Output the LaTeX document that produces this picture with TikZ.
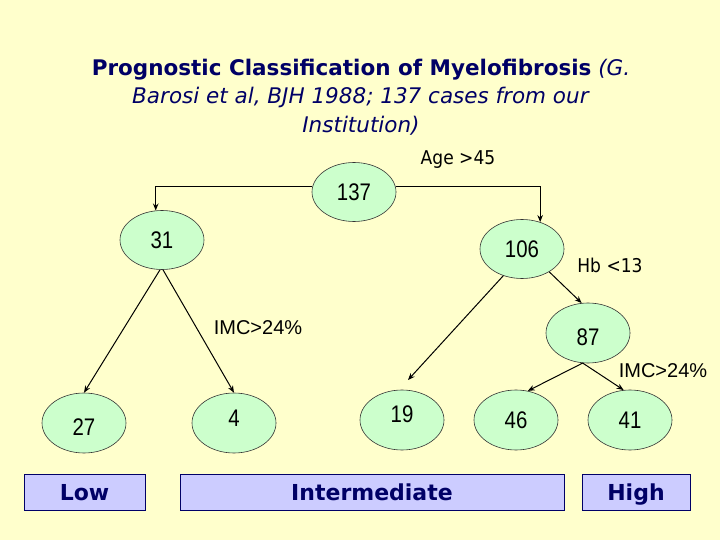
\documentclass[tikz,border=0pt]{standalone}
\usepackage{fontspec}
\setmainfont{DejaVu Sans}[FakeStretch=0.9]
\newfontfamily\titlefont{DejaVu Sans}
\newfontfamily\numfont{Liberation Sans}[FakeStretch=0.85]
\newfontfamily\imcfont{Liberation Sans}
\usetikzlibrary{shapes.geometric,arrows.meta}
\definecolor{bgcol}{HTML}{FFFFCC}
\definecolor{nodefill}{HTML}{CCFFCC}
\definecolor{boxfill}{HTML}{CCCCFF}
\definecolor{navy}{HTML}{000066}
\begin{document}
\begin{tikzpicture}[x=1pt,y=-1pt,
  ell/.style={ellipse,draw=black!80,line width=0.6pt,fill=nodefill,minimum width=84pt,minimum height=59pt,inner sep=0pt},
  num/.style={font=\numfont\fontsize{24}{24}\selectfont,text=black,inner sep=0pt},
  lab/.style={font=\fontsize{19}{19}\selectfont,text=black,inner sep=0pt},
  imc/.style={font=\imcfont\fontsize{20}{20}\selectfont,text=black,inner sep=0pt},
  cls/.style={draw=navy,line width=0.8pt,fill=boxfill,minimum height=36pt,inner sep=0pt,text height=18pt,text depth=2pt,font=\titlefont\bfseries\fontsize{22}{22}\selectfont,text=navy},
  arr/.style={draw=black,line width=1pt,-{Stealth[length=7pt,width=5.5pt]}}]
\fill[bgcol] (0,0) rectangle (720,540);
\useasboundingbox (0,0) rectangle (720,540);

% title
\node[text=navy,align=center,font=\titlefont\fontsize{21.5}{28.5}\selectfont] (title) at (361,97)
 {\textbf{Prognostic Classification of Myelofibrosis} \textit{(G.}\\
  \textit{Barosi et al, BJH 1988; 137 cases from our}\\
  \textit{Institution)}};

% tree nodes
\node[ell,label={[num]center:137}] (n137) at (354,192) {};
\node[ell,label={[num]center:31}] (n31) at (162,240) {};
\node[ell,label={[num]center:106}] (n106) at (522,249) {};
\node[ell,minimum height=60pt,label={[num,yshift=-4pt]center:87}] (n87) at (588,333) {};
\node[ell,minimum height=60pt,label={[num,yshift=-4pt]center:27}] (n27) at (84,423) {};
\node[ell,minimum height=60pt,label={[num,yshift=5pt]center:4}] (n4) at (234,423) {};
\node[ell,minimum height=60pt,label={[num,yshift=6pt]center:19}] (n19) at (402,420) {};
\node[ell,minimum height=60pt,label={[num]center:46}] (n46) at (516,420) {};
\node[ell,minimum height=60pt,label={[num]center:41}] (n41) at (630,420) {};

% labels
\node[lab] (age) at (458,160) {Age >45};
\node[lab] (hb) at (610,265) {Hb <13};
\node[imc] (imc1) at (258,328) {IMC>24\%};
\node[imc] (imc2) at (663,371) {IMC>24\%};

% connectors
\draw[arr] (n137.173) -| (n31.102);
\draw[arr] (n137.7) -| (n106.56);
\draw[arr] ([xshift=-2pt]n31.south) -- (n27.north);
\draw[arr] ([xshift=1pt]n31.south) -- (n4.north);
\coordinate (e19) at (408,380);
\draw[arr] (n106.235) -- (e19);
\draw[arr] (n106.320) -- (n87.102);
\draw[arr] (n87.260) -- (n46.68);
\draw[arr] (n87.260) -- (n41.102);

% classes
\node[cls,minimum width=121pt] (low) at (84.5,492) {Low};
\node[cls,minimum width=384pt] (inter) at (372,492) {Intermediate};
\node[cls,minimum width=108pt] (high) at (636,492) {High};
\end{tikzpicture}
\end{document}
